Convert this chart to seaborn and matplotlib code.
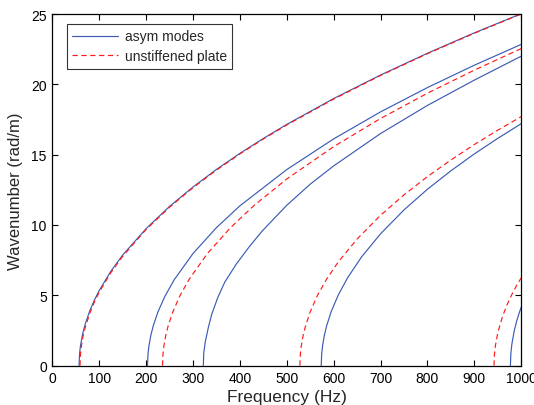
import matplotlib
matplotlib.use("Agg")
import matplotlib.pyplot as plt
import seaborn as sns
import pandas as pd

# asym modes of the stiffened plate (blue)
asym_f1 = [57, 58, 60, 65, 70, 80, 90, 100, 125, 150, 200, 250, 300, 350, 400, 450, 500, 600, 700, 800, 900, 1000]
asym_k1 = [0, 0.82, 1.41, 2.31, 2.94, 3.91, 4.68, 5.34, 6.72, 7.86, 9.74, 11.32, 12.70, 13.95, 15.09, 16.15, 17.15, 18.99, 20.66, 22.21, 23.66, 25.02]
asym_f2 = [203, 204, 206, 210, 215, 225, 240, 260, 300, 350, 400, 500, 600, 700, 800, 900, 1000]
asym_k2 = [0, 0.81, 1.40, 2.14, 2.80, 3.80, 4.92, 6.11, 7.97, 9.81, 11.36, 13.94, 16.12, 18.04, 19.77, 21.36, 22.84]
asym_f3 = [322, 323, 326, 333, 340, 353, 368, 393, 420, 447, 500, 550, 600, 700, 800, 900, 1000]
asym_k3 = [0, 0.9, 1.65, 2.75, 3.65, 4.85, 5.95, 7.25, 8.45, 9.55, 11.4, 12.9, 14.2, 16.5, 18.5, 20.3, 22.0]
asym_f4 = [573.5, 574.5, 576.5, 580, 585, 595, 610, 630, 660, 700, 750, 800, 850, 900, 950, 1000]
asym_k4 = [0, 0.83, 1.44, 2.12, 2.83, 3.86, 5.03, 6.26, 7.75, 9.37, 11.07, 12.54, 13.85, 15.05, 16.16, 17.20]
asym_f5 = [977, 978, 980, 985, 990, 995, 1000]
asym_k5 = [0, 0.87, 1.50, 2.45, 3.12, 3.67, 4.15]

# unstiffened plate (red dashed)
plate_f1 = [59, 60, 62, 65, 70, 80, 90, 100, 125, 150, 200, 250, 300, 350, 400, 450, 500, 600, 700, 800, 900, 1000]
plate_k1 = [0, 0.82, 1.41, 2.00, 2.70, 3.73, 4.54, 5.22, 6.62, 7.77, 9.68, 11.26, 12.65, 13.90, 15.05, 16.11, 17.11, 18.95, 20.63, 22.18, 23.63, 25.00]
plate_f2 = [235, 236, 238, 242, 247, 257, 272, 292, 330, 380, 430, 500, 600, 700, 800, 900, 1000]
plate_k2 = [0, 0.82, 1.41, 2.16, 2.82, 3.82, 4.96, 6.15, 7.94, 9.81, 11.38, 13.27, 15.57, 17.57, 19.37, 21.01, 22.54]
plate_f3 = [528, 529, 531, 535, 540, 550, 565, 585, 610, 650, 700, 750, 800, 850, 900, 950, 1000]
plate_k3 = [0, 0.82, 1.41, 2.16, 2.82, 3.82, 4.96, 6.15, 7.38, 9.00, 10.69, 12.14, 13.44, 14.62, 15.72, 16.74, 17.70]
plate_f4 = [942, 943, 945, 950, 960, 970, 980, 990, 1000]
plate_k4 = [0, 0.82, 1.42, 2.32, 3.48, 4.34, 5.05, 5.68, 6.24]

asym = [(asym_f1, asym_k1), (asym_f2, asym_k2), (asym_f3, asym_k3), (asym_f4, asym_k4), (asym_f5, asym_k5)]
plate = [(plate_f1, plate_k1), (plate_f2, plate_k2), (plate_f3, plate_k3), (plate_f4, plate_k4)]

sns.set_theme(style="ticks")
plt.rcParams['font.family'] = ['Liberation Sans', 'DejaVu Sans']

fig = plt.figure(figsize=(5.34, 4.06), dpi=100)
ax = fig.add_axes([0.098, 0.097, 0.878, 0.866])

blue = '#3c5cb4'
red = '#ff1a1a'

for i, (f, k) in enumerate(asym):
    df = pd.DataFrame({'freq': f, 'k': k})
    sns.lineplot(data=df, x='freq', y='k', ax=ax, color=blue, linewidth=0.85,
                 label='asym modes' if i == 0 else None)

for i, (f, k) in enumerate(plate):
    df = pd.DataFrame({'freq': f, 'k': k})
    sns.lineplot(data=df, x='freq', y='k', ax=ax, color=red, linewidth=0.85,
                 dashes=False, label='unstiffened plate' if i == 0 else None)
for line in ax.lines[len(asym):]:
    line.set_dashes((4.5, 3))

ax.set_xlim(0, 1000)
ax.set_ylim(0, 25)
ax.set_xticks(range(0, 1001, 100))
ax.set_yticks(range(0, 26, 5))
ax.set_xlabel('Frequency (Hz)', fontsize=12.5, labelpad=3)
ax.set_ylabel('Wavenumber (rad/m)', fontsize=12, labelpad=6)
ax.tick_params(direction='in', length=4, width=0.8, labelsize=10,
               top=True, right=True, pad=4, colors='black')
for s in ax.spines.values():
    s.set_visible(True)
    s.set_color('black')
    s.set_linewidth(0.9)

leg = ax.legend(loc='upper left', fontsize=10, frameon=True, fancybox=False,
                handlelength=3.3, handletextpad=0.45, borderpad=0.4,
                labelspacing=0.42, borderaxespad=0,
                bbox_to_anchor=(0.031, 0.972))
leg.get_frame().set_edgecolor('black')
leg.get_frame().set_linewidth(0.8)
leg.get_lines()[1].set_dashes((4.5, 3))

fig.savefig('out.png', dpi=100)
